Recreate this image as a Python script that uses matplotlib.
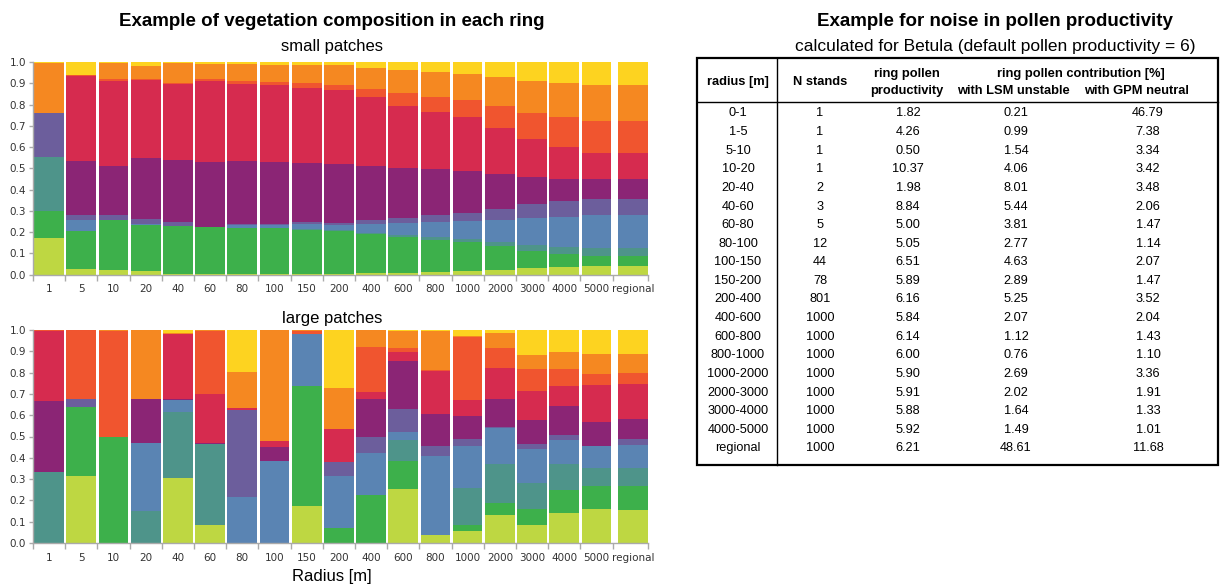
import matplotlib
matplotlib.use("Agg")
import matplotlib.pyplot as plt
from matplotlib.patches import Rectangle
from matplotlib.lines import Line2D

categories = ["1", "5", "10", "20", "40", "60", "80", "100", "150", "200", "400",
              "600", "800", "1000", "2000", "3000", "4000", "5000", "regional"]

layer_colors = ["#bed742", "#3db04b", "#4e948a", "#5a84b3", "#6c5e9c",
                "#8b2575", "#d62b4f", "#f0552f", "#f58821", "#fdd320"]

# small patches, stacked bottom -> top
small_lime = [.172, .027, .022, .017, .001, .001, .001, .001, .001, .003, .008, .008, .013, .017, .022, .031, .036, .041, .041]
small_green = [.128, .18, .235, .217, .226, .222, .217, .217, .211, .204, .185, .171, .15, .137, .113, .08, .061, .047, .047]
small_teal = [.252, 0, 0, 0, 0, 0, 0, 0, .005, .005, .003, .008, .014, .015, .019, .028, .033, .037, .037]
small_blue = [.003, .05, .002, .003, .002, .001, .016, .017, .021, .022, .043, .056, .071, .083, .103, .127, .141, .156, .156]
small_slate = [.205, .023, .021, .025, .019, .001, .006, .005, .01, .009, .019, .023, .033, .038, .052, .066, .075, .075, .075]
small_purple = [0, .254, .231, .287, .291, .305, .294, .29, .277, .277, .254, .236, .216, .197, .164, .127, .104, .094, .094]
small_crimson = [0, .40, .40, .368, .358, .381, .363, .362, .353, .348, .324, .291, .268, .254, .217, .179, .15, .122, .122]
small_red = [0, .005, .009, .005, .004, .009, .014, .014, .023, .024, .038, .061, .07, .08, .103, .122, .141, .151, .151]
small_orange = [.237, .001, .075, .059, .094, .069, .08, .08, .085, .094, .099, .108, .118, .123, .136, .151, .16, .169, .169]
small_yellow = [.003, .06, .005, .019, .005, .011, .009, .014, .014, .014, .028, .038, .047, .056, .071, .089, .099, .108, .108]

# large patches
large_lime = [0, .315, 0, 0, .305, .085, 0, 0, .174, 0, 0, .254, .038, .056, .131, .085, .141, .16, .155]
large_green = [0, .323, .498, 0, 0, 0, 0, 0, .563, .07, .225, .131, 0, .029, .057, .075, .108, .108, .113]
large_teal = [.333, 0, 0, .149, .31, .38, 0, 0, 0, 0, 0, .099, 0, .173, .183, .122, .122, .084, .084]
large_blue = [0, 0, 0, .32, .056, .001, .216, .385, .244, .245, .198, .037, .37, .197, .169, .159, .113, .103, .108]
large_slate = [.001, .038, 0, 0, 0, 0, .408, 0, 0, .065, .075, .108, .047, .033, .005, .024, .023, .001, .028]
large_purple = [.333, 0, 0, .207, .003, .002, 0, .066, 0, 0, .178, .225, .151, .108, .131, .112, .136, .113, .094]
large_crimson = [.329, 0, 0, 0, .307, .232, .01, .028, 0, .155, .033, .043, .202, .075, .146, .137, .094, .174, .164]
large_red = [.002, .324, .497, 0, 0, .295, 0, 0, .014, 0, .211, .018, .004, .296, .093, .103, .08, .051, .052]
large_orange = [.002, 0, .005, .324, .003, .005, .169, .521, .005, .193, .08, .08, .183, .005, .071, .066, .08, .094, .089]
large_yellow = [0, 0, 0, 0, .016, 0, .197, 0, 0, .272, 0, .005, .005, .028, .014, .117, .103, .113, .113]

small_layers = [small_lime, small_green, small_teal, small_blue, small_slate,
                small_purple, small_crimson, small_red, small_orange, small_yellow]
large_layers = [large_lime, large_green, large_teal, large_blue, large_slate,
                large_purple, large_crimson, large_red, large_orange, large_yellow]

# table
tbl_radius = ["0-1", "1-5", "5-10", "10-20", "20-40", "40-60", "60-80", "80-100", "100-150",
              "150-200", "200-400", "400-600", "600-800", "800-1000", "1000-2000",
              "2000-3000", "3000-4000", "4000-5000", "regional"]
tbl_nstands = ["1", "1", "1", "1", "2", "3", "5", "12", "44", "78", "801", "1000", "1000",
               "1000", "1000", "1000", "1000", "1000", "1000"]
tbl_prod = ["1.82", "4.26", "0.50", "10.37", "1.98", "8.84", "5.00", "5.05", "6.51", "5.89",
            "6.16", "5.84", "6.14", "6.00", "5.90", "5.91", "5.88", "5.92", "6.21"]
tbl_lsm = ["0.21", "0.99", "1.54", "4.06", "8.01", "5.44", "3.81", "2.77", "4.63", "2.89",
           "5.25", "2.07", "1.12", "0.76", "2.69", "2.02", "1.64", "1.49", "48.61"]
tbl_gpm = ["46.79", "7.38", "3.34", "3.42", "3.48", "2.06", "1.47", "1.14", "2.07", "1.47",
           "3.52", "2.04", "1.43", "1.10", "3.36", "1.91", "1.33", "1.01", "11.68"]

W, H = 1223, 586
fig = plt.figure(figsize=(W / 100, H / 100), dpi=100)
SANS = ["Liberation Sans", "DejaVu Sans"]

positions = [i for i in range(len(categories) - 1)] + [len(categories) - 1 + 0.13]
bar_w = 0.92
xmin, xmax = -0.47, positions[-1] + 0.47


def draw_stack(ax, layers):
    bottom = [0.0] * len(categories)
    for vals, col in zip(layers, layer_colors):
        ax.bar(positions, vals, bottom=bottom, width=bar_w, color=col, linewidth=0)
        bottom = [b + v for b, v in zip(bottom, vals)]
    ax.set_xlim(xmin, xmax)
    ax.set_ylim(0, 1.0)
    ax.set_yticks([i / 10 for i in range(11)])
    ax.set_yticklabels([f"{i / 10:.1f}" for i in range(11)], fontsize=7.5, color="#333333")
    ax.set_xticks(positions)
    ax.set_xticklabels(categories, fontsize=7.5, color="#333333")
    ax.tick_params(axis="x", which="major", length=0, pad=7)
    ax.set_xticks([i - 0.5 for i in range(len(categories))] + [xmax], minor=True)
    ax.tick_params(axis="x", which="minor", length=4, color="#aaaaaa", width=1)
    ax.tick_params(axis="y", length=3, color="#aaaaaa", width=1, pad=2)
    for s in ("top", "right"):
        ax.spines[s].set_visible(False)
    for s in ("left", "bottom"):
        ax.spines[s].set_color("#aaaaaa")
        ax.spines[s].set_linewidth(1)


ax1 = fig.add_axes([33 / W, (H - 274.7) / H, 615 / W, 212.7 / H])
draw_stack(ax1, small_layers)
ax2 = fig.add_axes([33 / W, (H - 543) / H, 615 / W, 213 / H])
draw_stack(ax2, large_layers)

# overlay for text and table
ov = fig.add_axes([0, 0, 1, 1], zorder=5)
ov.set_xlim(0, W)
ov.set_ylim(H, 0)
ov.axis("off")

ov.text(332, 21, "Example of vegetation composition in each ring", ha="center", va="center",
        fontsize=13.5, fontweight="bold", family=SANS)
ov.text(332, 47, "small patches", ha="center", va="center", fontsize=12, family=SANS)
ov.text(332, 318, "large patches", ha="center", va="center", fontsize=12, family=SANS)
ov.text(332, 576, "Radius [m]", ha="center", va="center", fontsize=12, family=SANS)

ov.text(995, 21, "Example for noise in pollen productivity", ha="center", va="center",
        fontsize=13.5, fontweight="bold", family=SANS)
ov.text(995, 47, "calculated for Betula (default pollen productivity = 6)", ha="center",
        va="center", fontsize=12.5, family=SANS)

# table box
ov.add_patch(Rectangle((697, 58), 521, 407, fill=False, edgecolor="black", linewidth=1.6))
ov.add_line(Line2D([777, 777], [58, 465], color="black", linewidth=1.0))
ov.add_line(Line2D([697, 1218], [102, 102], color="black", linewidth=1.0))

hdr_fs = 9.3
ov.text(738, 82, "radius [m]", ha="center", va="center", fontsize=hdr_fs, fontweight="bold", family=SANS)
ov.text(820, 82, "N stands", ha="center", va="center", fontsize=hdr_fs, fontweight="bold", family=SANS)
ov.text(907, 74, "ring pollen", ha="center", va="center", fontsize=hdr_fs, fontweight="bold", family=SANS)
ov.text(907, 91, "productivity", ha="center", va="center", fontsize=hdr_fs, fontweight="bold", family=SANS)
ov.text(1081, 74, "ring pollen contribution [%]", ha="center", va="center", fontsize=hdr_fs,
        fontweight="bold", family=SANS)
ov.text(1013, 91, "with LSM unstable", ha="center", va="center", fontsize=hdr_fs, fontweight="bold", family=SANS)
ov.text(1136, 91, "with GPM neutral", ha="center", va="center", fontsize=hdr_fs, fontweight="bold", family=SANS)

row_fs = 9.2
for i in range(len(tbl_radius)):
    y = 113.5 + i * 18.6
    ov.text(738, y, tbl_radius[i], ha="center", va="center", fontsize=row_fs, family=SANS)
    ov.text(820, y, tbl_nstands[i], ha="center", va="center", fontsize=row_fs, family=SANS)
    ov.text(908, y, tbl_prod[i], ha="center", va="center", fontsize=row_fs, family=SANS)
    ov.text(1016, y, tbl_lsm[i], ha="center", va="center", fontsize=row_fs, family=SANS)
    ov.text(1148, y, tbl_gpm[i], ha="center", va="center", fontsize=row_fs, family=SANS)

fig.savefig("out.png", dpi=100)
